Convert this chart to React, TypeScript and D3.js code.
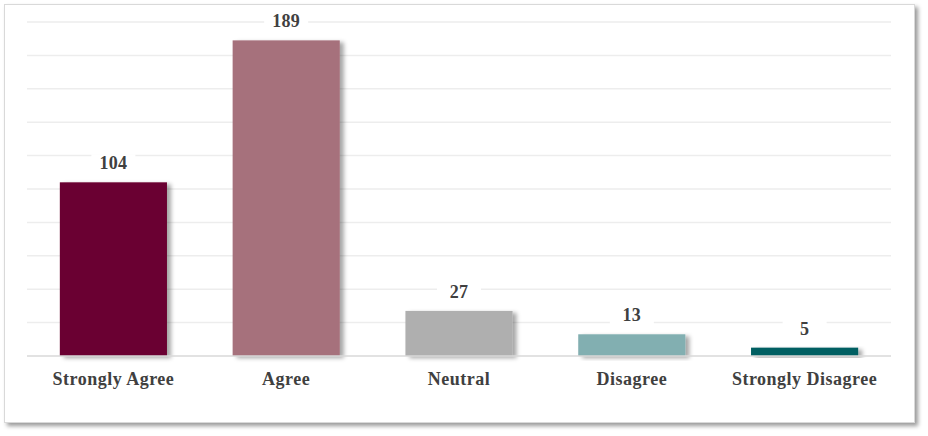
import React from "react";
import * as d3 from "d3";

const categories = ["Strongly Agree", "Agree", "Neutral", "Disagree", "Strongly Disagree"];
const values = [104, 189, 27, 13, 5];
const colors = ["#6B0031", "#A6717C", "#AFAFAF", "#82AFB1", "#045F62"];
const yTicks = [0, 20, 40, 60, 80, 100, 120, 140, 160, 180, 200];

const W = 928;
const H = 436;
const left = 27;
const right = 891;
const top = 22;
const bottom = 356;

export default function App() {
  const x = d3.scaleBand<string>().domain(categories).range([left, right]).paddingInner(0.38).paddingOuter(0.19);
  const y = d3.scaleLinear().domain([0, 200]).range([bottom, top]);
  const font = "'Liberation Serif', 'Times New Roman', serif";
  return (
    <svg width={W} height={H} style={{ position: "absolute", left: 0, top: 0 }}>
      <defs>
        <filter id="outerShadow" x="-5%" y="-5%" width="110%" height="115%">
          <feDropShadow dx="3" dy="3" stdDeviation="2" floodColor="#000" floodOpacity="0.4" />
        </filter>
        <filter id="barShadow" x="-10%" y="-10%" width="130%" height="130%">
          <feDropShadow dx="4" dy="2" stdDeviation="2" floodColor="#000" floodOpacity="0.35" />
        </filter>
      </defs>
      <rect x={4.5} y={4.5} width={910} height={418} fill="#fff" stroke="#D9D9D9" strokeWidth={1} filter="url(#outerShadow)" />
      {yTicks.slice(1).map((t) => (
        <line key={t} x1={left} x2={right} y1={y(t)} y2={y(t)} stroke="#EDEDED" strokeWidth={1.5} />
      ))}
      {categories.map((c, i) => (
        <rect
          key={c}
          x={x(c)}
          y={y(values[i])}
          width={x.bandwidth()}
          height={bottom - y(values[i])}
          fill={colors[i]}
          filter="url(#barShadow)"
        />
      ))}
      <line x1={left} x2={right} y1={bottom} y2={bottom} stroke="#D9D9D9" strokeWidth={1.5} />
      {categories.map((c, i) => {
        const cx = (x(c) as number) + x.bandwidth() / 2;
        const ty = y(values[i]) - 13;
        return (
          <g key={c}>
            <rect x={cx - 22} y={ty - 15} width={44} height={21} fill="#fff" />
            <text x={cx} y={ty} textAnchor="middle" fontFamily={font} fontWeight="bold" fontSize={18} fill="#404040" letterSpacing={0.3}>
              {values[i]}
            </text>
          </g>
        );
      })}
      {categories.map((c) => (
        <text
          key={c}
          x={(x(c) as number) + x.bandwidth() / 2}
          y={385}
          textAnchor="middle"
          fontFamily={font}
          fontWeight="bold"
          fontSize={18}
          fill="#404040"
          letterSpacing={0.5}
        >
          {c}
        </text>
      ))}
    </svg>
  );
}
